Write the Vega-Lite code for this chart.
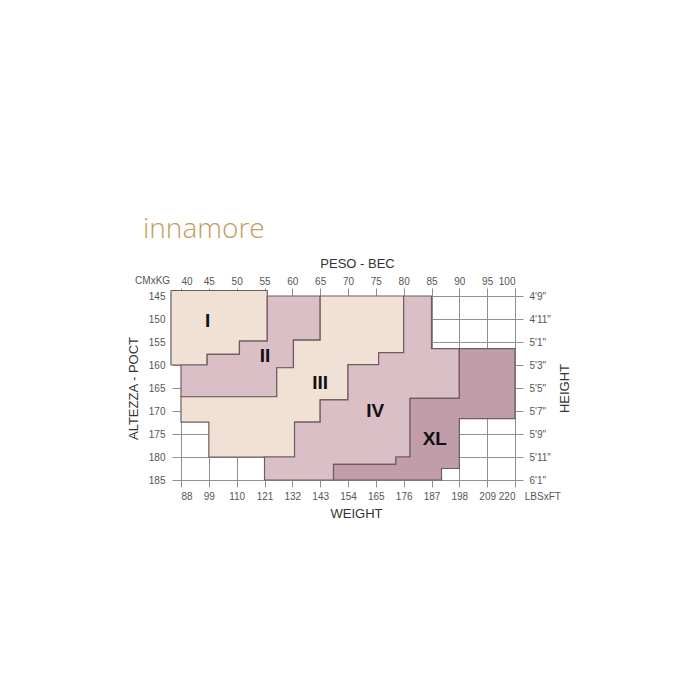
{
  "$schema": "https://vega.github.io/schema/vega-lite/v6.json",
  "width": 334,
  "height": 184,
  "autosize": {"type": "none"},
  "padding": {"left": 181, "top": 296, "right": 185, "bottom": 220},
  "background": "white",
  "title": {"text": "innamore", "anchor": "start", "frame": "group", "dx": -38, "offset": 13, "font": "Open Sans", "fontWeight": 300, "fontSize": 28, "color": "#c29d5e"},
  "config": {
    "view": {"stroke": null},
    "axis": {"labelFont": "Liberation Sans", "titleFont": "Liberation Sans", "labelColor": "#555555", "titleColor": "#333333", "labelFontSize": 10, "titleFontSize": 13, "titleFontWeight": "normal", "gridColor": "#8f8f8f", "tickColor": "#8f8f8f", "gridOpacity": 1, "domain": false}
  },
  "datasets": {
    "regions": [
      {"r": "I", "i": 0, "kg": 38.2, "cm": 143.8}, {"r": "I", "i": 1, "kg": 55.5, "cm": 143.8}, {"r": "I", "i": 2, "kg": 55.5, "cm": 154.8}, {"r": "I", "i": 3, "kg": 50.5, "cm": 154.8}, {"r": "I", "i": 4, "kg": 50.5, "cm": 157.7}, {"r": "I", "i": 5, "kg": 44.7, "cm": 157.7}, {"r": "I", "i": 6, "kg": 44.7, "cm": 160}, {"r": "I", "i": 7, "kg": 38.2, "cm": 160}, {"r": "I", "i": 8, "kg": 38.2, "cm": 143.8},
      {"r": "II", "i": 0, "kg": 55.5, "cm": 145}, {"r": "II", "i": 1, "kg": 65, "cm": 145}, {"r": "II", "i": 2, "kg": 65, "cm": 154.6}, {"r": "II", "i": 3, "kg": 60.2, "cm": 154.6}, {"r": "II", "i": 4, "kg": 60.2, "cm": 160.6}, {"r": "II", "i": 5, "kg": 57.2, "cm": 160.6}, {"r": "II", "i": 6, "kg": 57.2, "cm": 166.9}, {"r": "II", "i": 7, "kg": 40, "cm": 166.9}, {"r": "II", "i": 8, "kg": 40, "cm": 160}, {"r": "II", "i": 9, "kg": 44.7, "cm": 160}, {"r": "II", "i": 10, "kg": 44.7, "cm": 157.7}, {"r": "II", "i": 11, "kg": 50.5, "cm": 157.7}, {"r": "II", "i": 12, "kg": 50.5, "cm": 154.8}, {"r": "II", "i": 13, "kg": 55.5, "cm": 154.8}, {"r": "II", "i": 14, "kg": 55.5, "cm": 145},
      {"r": "III", "i": 0, "kg": 65, "cm": 145}, {"r": "III", "i": 1, "kg": 80, "cm": 145}, {"r": "III", "i": 2, "kg": 80, "cm": 157.3}, {"r": "III", "i": 3, "kg": 75.5, "cm": 157.3}, {"r": "III", "i": 4, "kg": 75.5, "cm": 159.9}, {"r": "III", "i": 5, "kg": 70, "cm": 159.9}, {"r": "III", "i": 6, "kg": 70, "cm": 167.6}, {"r": "III", "i": 7, "kg": 65, "cm": 167.6}, {"r": "III", "i": 8, "kg": 65, "cm": 172.4}, {"r": "III", "i": 9, "kg": 60.4, "cm": 172.4}, {"r": "III", "i": 10, "kg": 60.4, "cm": 180}, {"r": "III", "i": 11, "kg": 45, "cm": 180}, {"r": "III", "i": 12, "kg": 45, "cm": 172.4}, {"r": "III", "i": 13, "kg": 40, "cm": 172.4}, {"r": "III", "i": 14, "kg": 40, "cm": 166.9}, {"r": "III", "i": 15, "kg": 57.2, "cm": 166.9}, {"r": "III", "i": 16, "kg": 57.2, "cm": 160.6}, {"r": "III", "i": 17, "kg": 60.2, "cm": 160.6}, {"r": "III", "i": 18, "kg": 60.2, "cm": 154.6}, {"r": "III", "i": 19, "kg": 65, "cm": 154.6}, {"r": "III", "i": 20, "kg": 65, "cm": 145},
      {"r": "IV", "i": 0, "kg": 80, "cm": 145}, {"r": "IV", "i": 1, "kg": 85, "cm": 145}, {"r": "IV", "i": 2, "kg": 85, "cm": 156.45}, {"r": "IV", "i": 3, "kg": 90, "cm": 156.45}, {"r": "IV", "i": 4, "kg": 90, "cm": 167.25}, {"r": "IV", "i": 5, "kg": 81.15, "cm": 167.25}, {"r": "IV", "i": 6, "kg": 81.15, "cm": 180}, {"r": "IV", "i": 7, "kg": 78.6, "cm": 180}, {"r": "IV", "i": 8, "kg": 78.6, "cm": 181.6}, {"r": "IV", "i": 9, "kg": 67.4, "cm": 181.6}, {"r": "IV", "i": 10, "kg": 67.4, "cm": 185}, {"r": "IV", "i": 11, "kg": 55, "cm": 185}, {"r": "IV", "i": 12, "kg": 55, "cm": 180}, {"r": "IV", "i": 13, "kg": 60.4, "cm": 180}, {"r": "IV", "i": 14, "kg": 60.4, "cm": 172.4}, {"r": "IV", "i": 15, "kg": 65, "cm": 172.4}, {"r": "IV", "i": 16, "kg": 65, "cm": 167.6}, {"r": "IV", "i": 17, "kg": 70, "cm": 167.6}, {"r": "IV", "i": 18, "kg": 70, "cm": 159.9}, {"r": "IV", "i": 19, "kg": 75.5, "cm": 159.9}, {"r": "IV", "i": 20, "kg": 75.5, "cm": 157.3}, {"r": "IV", "i": 21, "kg": 80, "cm": 157.3}, {"r": "IV", "i": 22, "kg": 80, "cm": 145},
      {"r": "XL", "i": 0, "kg": 90, "cm": 156.45}, {"r": "XL", "i": 1, "kg": 100, "cm": 156.45}, {"r": "XL", "i": 2, "kg": 100, "cm": 171.65}, {"r": "XL", "i": 3, "kg": 90, "cm": 171.65}, {"r": "XL", "i": 4, "kg": 90, "cm": 182.5}, {"r": "XL", "i": 5, "kg": 86.8, "cm": 182.5}, {"r": "XL", "i": 6, "kg": 86.8, "cm": 185}, {"r": "XL", "i": 7, "kg": 67.4, "cm": 185}, {"r": "XL", "i": 8, "kg": 67.4, "cm": 181.6}, {"r": "XL", "i": 9, "kg": 78.6, "cm": 181.6}, {"r": "XL", "i": 10, "kg": 78.6, "cm": 180}, {"r": "XL", "i": 11, "kg": 81.15, "cm": 180}, {"r": "XL", "i": 12, "kg": 81.15, "cm": 167.25}, {"r": "XL", "i": 13, "kg": 90, "cm": 167.25}, {"r": "XL", "i": 14, "kg": 90, "cm": 156.45}
    ],
    "sizes": [
      {"t": "I", "kg": 44.8, "cm": 150.4},
      {"t": "II", "kg": 55.1, "cm": 158.1},
      {"t": "III", "kg": 65, "cm": 164},
      {"t": "IV", "kg": 74.9, "cm": 170},
      {"t": "XL", "kg": 85.6, "cm": 176}
    ],
    "units": [
      {"t": "CMxKG", "kg": 34.9, "cm": 141.7},
      {"t": "LBSxFT", "kg": 105, "cm": 188.7}
    ]
  },
  "layer": [
    {
      "data": {"name": "regions"},
      "mark": {"type": "line", "filled": true, "stroke": "#6e5c60", "strokeWidth": 1.2, "strokeJoin": "miter", "fillOpacity": 1},
      "encoding": {
        "x": {"field": "kg", "type": "quantitative", "scale": {"domain": [40, 100], "nice": false, "zero": false},
          "axis": {"orient": "bottom", "values": [40, 45, 50, 55, 60, 65, 70, 75, 80, 85, 90, 95, 100], "labelExpr": "format(datum.value*2.2,'d')", "grid": true, "tickSize": 7, "labelPadding": 4, "title": "WEIGHT", "titlePadding": 6, "titleX": 175}},
        "y": {"field": "cm", "type": "quantitative", "scale": {"domain": [145, 185], "nice": false, "zero": false, "reverse": true},
          "axis": {"orient": "left", "values": [145, 150, 155, 160, 165, 170, 175, 180, 185], "grid": true, "tickSize": 9, "labelPadding": 7, "title": "ALTEZZA - POCT", "titlePadding": 8}},
        "fill": {"field": "r", "type": "nominal", "scale": {"domain": ["I", "II", "III", "IV", "XL"], "range": ["#f0e1d4", "#dbbfc7", "#f0e1d4", "#dbbfc7", "#c19daa"]}, "legend": null},
        "detail": {"field": "r", "type": "nominal"},
        "order": {"field": "i", "type": "quantitative"}
      }
    },
    {
      "data": {"name": "sizes"},
      "mark": {"type": "text", "font": "Liberation Sans", "fontWeight": "bold", "fontSize": 19, "color": "#111111"},
      "encoding": {
        "x": {"field": "kg", "type": "quantitative", "scale": {"domain": [40, 100], "nice": false, "zero": false},
          "axis": {"orient": "top", "values": [40, 45, 50, 55, 60, 65, 70, 75, 80, 85, 90, 95, 100], "grid": false, "tickSize": 8, "labelPadding": 2, "title": "PESO - BEC", "titlePadding": 6, "titleX": 176}},
        "y": {"field": "cm", "type": "quantitative", "scale": {"domain": [145, 185], "nice": false, "zero": false, "reverse": true},
          "axis": {"orient": "right", "values": [145, 150, 155, 160, 165, 170, 175, 180, 185], "grid": false, "tickSize": 8, "labelPadding": 6, "labelExpr": "floor(round(datum.value/2.54)/12)+\"'\"+(round(datum.value/2.54)%12)+'\"'", "title": "HEIGHT", "titleAngle": 270, "titlePadding": 21}},
        "text": {"field": "t", "type": "nominal"}
      }
    },
    {
      "data": {"name": "units"},
      "mark": {"type": "text", "font": "Liberation Sans", "fontSize": 10, "color": "#555555"},
      "encoding": {
        "x": {"field": "kg", "type": "quantitative", "scale": {"domain": [40, 100], "nice": false, "zero": false}, "axis": null},
        "y": {"field": "cm", "type": "quantitative", "scale": {"domain": [145, 185], "nice": false, "zero": false, "reverse": true}, "axis": null},
        "text": {"field": "t", "type": "nominal"}
      }
    }
  ],
  "resolve": {"axis": {"x": "independent", "y": "independent"}}
}
